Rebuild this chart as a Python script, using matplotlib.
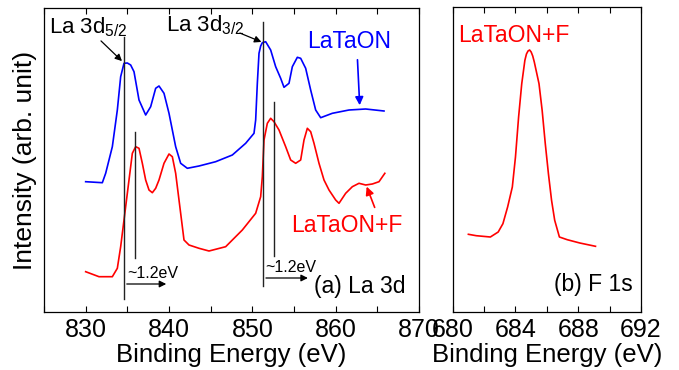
import matplotlib
matplotlib.use("Agg")
import matplotlib.pyplot as plt
from matplotlib.ticker import MultipleLocator, NullLocator

plt.rcParams['font.family'] = ['Liberation Sans', 'DejaVu Sans']
plt.rcParams['mathtext.fontset'] = 'custom'
plt.rcParams['mathtext.rm'] = 'Liberation Sans'
plt.rcParams['mathtext.it'] = 'Liberation Sans:italic'

# ---- La 3d data (binding energy eV, intensity arb.) ----
la_energy_blue = [830.0, 832.0, 832.4, 833.2, 833.8, 834.2, 834.6, 835.0, 835.4, 835.8, 836.4,
                  837.2, 837.8, 838.4, 838.8, 839.4, 840.0, 840.8, 841.4, 842.2, 843.6,
                  845.6, 847.6, 849.2, 850.2, 850.4, 850.6, 850.8, 851.0, 851.2, 851.6, 852.2,
                  852.8, 853.4, 853.8, 854.4, 854.8, 855.4, 855.8, 856.4, 857.0, 857.6,
                  858.2, 859.6, 861.6, 863.6, 865.8]
la_int_blue = [130.3, 129.3, 138.7, 165.3, 202.0, 235.3, 248.7, 249.0, 247.0, 240.3, 212.0,
               197.0, 205.3, 223.7, 226.0, 218.7, 198.7, 165.3, 148.7, 143.7, 146.0,
               150.3, 157.0, 168.7, 178.7, 192.0, 228.7, 258.7, 266.0, 269.3, 270.3, 262.0,
               245.3, 233.7, 224.7, 228.7, 245.3, 254.7, 253.7, 243.7, 222.0, 202.0,
               194.3, 198.7, 202.0, 203.0, 201.0]

la_energy_red = [830.0, 831.6, 833.2, 833.8, 834.2, 834.6, 835.2, 835.6, 836.0, 836.4,
                 836.8, 837.2, 837.6, 838.0, 838.4, 838.8, 839.4, 840.0, 840.4, 840.8,
                 841.2, 841.4, 841.8, 842.4, 843.6, 844.8, 846.8, 848.8, 850.4, 851.0,
                 851.2, 851.4, 851.8, 852.2, 852.6, 853.2, 854.0, 854.6, 855.2, 855.8,
                 856.2, 856.6, 857.0, 857.4, 858.0, 858.6, 859.2, 860.0, 860.4, 861.2,
                 862.0, 862.8, 863.6, 864.4, 865.2, 865.9]
la_int_red = [40.3, 35.3, 35.3, 43.7, 65.3, 92.0, 132.0, 158.7, 165.3, 163.7,
              148.7, 132.0, 122.0, 119.3, 123.7, 132.0, 148.7, 158.0, 155.3, 138.7,
              112.0, 98.7, 72.0, 67.0, 63.7, 61.0, 65.3, 82.0, 98.7, 115.3,
              135.3, 172.0, 188.7, 193.7, 190.3, 182.0, 165.3, 152.0, 148.7, 152.0,
              172.0, 183.7, 180.3, 168.7, 148.7, 132.0, 122.0, 112.0, 108.7, 118.7,
              125.3, 128.7, 127.0, 128.0, 130.3, 138.7]

# ---- F 1s data ----
f_energy = [681.0, 681.5, 682.4, 682.9, 683.2, 683.5, 683.8, 684.0, 684.2, 684.4,
            684.6, 684.7, 684.8, 684.9, 685.0, 685.1, 685.2, 685.5, 685.7, 685.9, 686.1,
            686.3, 686.5, 686.8, 687.3, 688.1, 689.1]
f_int = [77.7, 76.3, 75.0, 80.0, 88.3, 105.0, 125.0, 155.0, 195.0, 228.3,
         251.7, 258.0, 261.0, 262.0, 260.0, 256.0, 250.0, 228.3, 201.7, 168.3, 138.3,
         111.7, 91.7, 75.0, 72.3, 69.0, 65.7]

la_ticks = [830, 840, 850, 860, 870]
f_ticks = [680, 684, 688, 692]

BLUE = '#0000ff'
RED = '#ff0000'

fig = plt.figure(figsize=(6.79, 3.70), dpi=100)
axL = fig.add_axes([44/679, 1-312/370, (419-44)/679, (312-8.3)/370])
axR = fig.add_axes([452.7/679, 1-312/370, (641-452.7)/679, (312-7.3)/370])

for ax in (axL, axR):
    ax.tick_params(axis='x', which='both', direction='in', top=True, length=4,
                   width=0.8, labelsize=18, pad=4)
    ax.yaxis.set_major_locator(NullLocator())
    ax.yaxis.set_minor_locator(NullLocator())
    for s in ax.spines.values():
        s.set_linewidth(0.9)

# Left panel
axL.plot(la_energy_blue, la_int_blue, color=BLUE, lw=1.2)
axL.plot(la_energy_red, la_int_red, color=RED, lw=1.2)
axL.set_xlim(825, 870)
axL.set_ylim(0, 303.7)
axL.set_xticks(la_ticks)
axL.xaxis.set_minor_locator(MultipleLocator(5))
axL.set_xlabel('Binding Energy (eV)', fontsize=18.5, labelpad=1)
axL.set_ylabel('Intensity (arb. unit)', fontsize=19, labelpad=5)

# vertical marker lines
vlines = [(834.6, 13, 275), (835.9, 54, 180), (851.3, 26, 290), (852.6, 56, 210)]
for x, y0, y1 in vlines:
    axL.plot([x, x], [y0, y1], color='#222222', lw=1.0)

arrow_k = dict(arrowstyle='-|>', color='black', lw=0.9, mutation_scale=10)
axL.annotate('', xy=(840.0, 28), xytext=(834.6, 28), arrowprops=arrow_k)
axL.annotate('', xy=(857.0, 34), xytext=(851.3, 34), arrowprops=arrow_k)
axL.text(835.0, 39, '~1.2eV', fontsize=11.5, ha='left', va='center')
axL.text(851.6, 45, '~1.2eV', fontsize=11.5, ha='left', va='center')

axL.text(825.6, 285, r'La 3d$_{\mathrm{5/2}}$', fontsize=16, ha='left', va='center')
axL.annotate('', xy=(834.6, 249), xytext=(831.6, 273), arrowprops=arrow_k)
axL.text(839.6, 287, r'La 3d$_{\mathrm{3/2}}$', fontsize=16, ha='left', va='center')
axL.annotate('', xy=(851.4, 269), xytext=(848.2, 280), arrowprops=arrow_k)

axL.text(856.6, 270, 'LaTaON', color=BLUE, fontsize=16.5, ha='left', va='center')
axL.annotate('', xy=(862.9, 204), xytext=(862.6, 255),
             arrowprops=dict(arrowstyle='-|>', color=BLUE, lw=1.2, mutation_scale=12))
axL.text(854.6, 86, 'LaTaON+F', color=RED, fontsize=16.5, ha='left', va='center')
axL.annotate('', xy=(863.6, 128), xytext=(864.8, 102),
             arrowprops=dict(arrowstyle='-|>', color=RED, lw=1.2, mutation_scale=12))
axL.text(868.4, 25, '(a) La 3d', fontsize=16.5, ha='right', va='center')

# Right panel
axR.plot(f_energy, f_int, color=RED, lw=1.2)
axR.set_xlim(680, 692)
axR.set_ylim(0, 304.7)
axR.set_xticks(f_ticks)
axR.xaxis.set_minor_locator(MultipleLocator(2))
axR.set_xlabel('Binding Energy (eV)', fontsize=18.5, labelpad=1)
axR.text(680.34, 277, 'LaTaON+F', color=RED, fontsize=16.5, ha='left', va='center')
axR.text(691.47, 27, '(b) F 1s', fontsize=16.5, ha='right', va='center')

fig.savefig('out.png', dpi=100)
